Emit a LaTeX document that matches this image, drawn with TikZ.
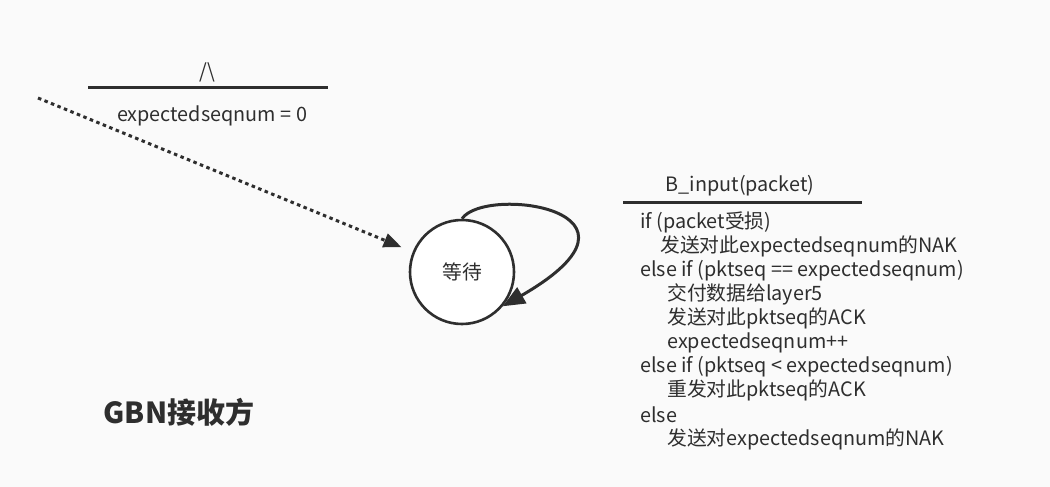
\documentclass[tikz,border=0pt]{standalone}
\usepackage{fontspec}
\setmainfont{Noto Sans CJK SC}
\usepackage{xcolor}
\usetikzlibrary{arrows.meta,positioning}
\definecolor{ink}{HTML}{2E2E2E}
\definecolor{paper}{HTML}{FAFAFA}

\begin{document}
\begin{tikzpicture}[x=1pt,y=-1pt,
    every node/.style={text=ink,font=\fontsize{19.8}{22}\selectfont},
    bar/.style={draw=ink,line width=3pt},
    state/.style={circle,draw=ink,line width=2.6pt,fill=white,minimum size=104pt,inner sep=0pt},
    codeline/.style={anchor=west,inner sep=0pt}]
    \fill[paper] (0,0) rectangle (1050,487);
    \useasboundingbox (0,0) rectangle (1050,487);

    % initial transition
    \node (guard) at (207,72) {/\textbackslash};
    \draw[bar] (88,88) -- (328,88);
    \node (init) at (212,116) {expectedseqnum = 0};
    \coordinate (start) at (38,98);

    % the state
    \node[state] (wait) at (462,272) {等待};
    \draw[draw=ink,line width=3pt,dash pattern=on 3.5pt off 3.5pt,shorten >=12pt,
          -{Triangle[length=18pt,width=14pt]}] (start) -- (wait);
    \draw[draw=ink,line width=3pt,-{Triangle[length=22pt,width=18pt]}]
        (wait.north) .. controls (485,185) and (670,210) .. (wait.-40);

    % event and actions
    \node (event) at (740,186) {B\_input(packet)};
    \draw[bar] (623,202) -- (862,202);
    \foreach \i/\x/\t in {1/640/{if (packet受损)},
                          2/660/{发送对此expectedseqnum的NAK},
                          3/640/{else if (pktseq == expectedseqnum)},
                          4/667/{交付数据给layer5},
                          5/667/{发送对此pktseq的ACK},
                          6/667/{expectedseqnum++},
                          7/640/{else if (pktseq < expectedseqnum)},
                          8/667/{重发对此pktseq的ACK},
                          9/640/{else},
                          10/667/{发送对expectedseqnum的NAK}}
        \node[codeline] (act\i) at (\x,198+24.1*\i) {\t};

    \node[font=\fontsize{29}{32}\selectfont\bfseries] (title) at (179,412) {GBN接收方};
\end{tikzpicture}
\end{document}
